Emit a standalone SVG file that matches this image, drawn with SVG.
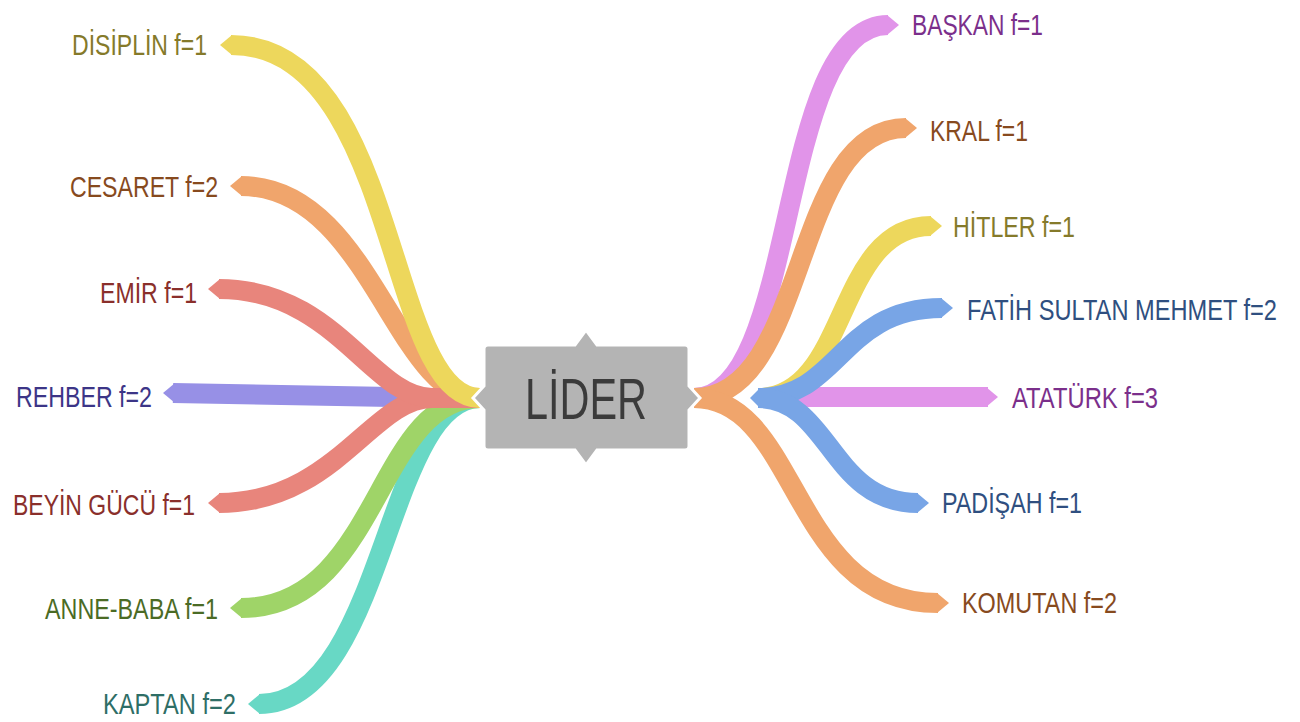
<svg xmlns="http://www.w3.org/2000/svg" width="1300" height="722" viewBox="0 0 1300 722">
<style>
.r{fill:none;stroke-width:20;stroke-linecap:butt}
.lbl{font-family:"Liberation Sans Narrow","Liberation Sans",Arial,sans-serif;font-size:30px}
.yel{stroke:#EDD75C}.yelf{fill:#EDD75C}
.org{stroke:#F0A56C}.orgf{fill:#F0A56C}
.sal{stroke:#E8857C}.salf{fill:#E8857C}
.lav{stroke:#9790E6}.lavf{fill:#9790E6}
.grn{stroke:#9FD468}.grnf{fill:#9FD468}
.tea{stroke:#68D8C5}.teaf{fill:#68D8C5}
.pnk{stroke:#E194E9}.pnkf{fill:#E194E9}
.blu{stroke:#78A5E6}.bluf{fill:#78A5E6}
.t-ol{fill:#857A2A}.t-br{fill:#874A1E}.t-rd{fill:#8A2F2B}.t-pu{fill:#3C3587}
.t-gr{fill:#4B6B25}.t-te{fill:#2E6E66}.t-pk{fill:#7B2F8B}.t-bl{fill:#2F4F80}
</style>
<rect width="1300" height="722" fill="#ffffff"/>
<g id="connectors">
  <!-- left side -->
  <path class="r lav" d="M 392 397 L 173 393"/>
  <polygon class="lavf" points="175,383 163,393 175,403"/>
  <polygon class="lavf" points="390,387 402,397 390,407"/>
  <path class="r tea" d="M 480 398 C 385 398, 385 704, 259 704"/>
  <polygon class="teaf" points="260,694 248,704 260,714"/>
  <path class="r grn" d="M 480 398 C 375 398, 380 608, 241 608"/>
  <polygon class="grnf" points="242,598 230,608 242,618"/>
  <path class="r org" d="M 480 398 C 395 398, 370 186, 241 186"/>
  <polygon class="orgf" points="242,176 230,186 242,196"/>
  <path class="r sal" d="M 480 398 L 432 398 C 372 398, 335 503, 219 503"/>
  <polygon class="salf" points="220,493 208,503 220,513"/>
  <path class="r sal" d="M 480 398 L 432 398 C 372 398, 335 289, 219 289"/>
  <polygon class="salf" points="220,279 208,289 220,299"/>
  <path class="r yel" d="M 480 398 C 385 398, 400 45, 231 45"/>
  <polygon class="yelf" points="232,35 220,45 232,55"/>
  <!-- right side -->
  <path class="r pnk" d="M 770 397 L 988 397"/>
  <polygon class="pnkf" points="986,387 998,397 986,407"/>
  <path class="r yel" d="M 760 398 C 850 395, 835 226, 931 226"/>
  <polygon class="yelf" points="930,216 942,226 930,236"/>
  <path class="r pnk" d="M 694 398 C 800 398, 775 25, 888 25"/>
  <polygon class="pnkf" points="887,15 899,25 887,35"/>
  <path class="r org" d="M 694 398 C 810 398, 790 128, 906 128"/>
  <polygon class="orgf" points="905,118 917,128 905,138"/>
  <path class="r org" d="M 694 398 C 800 398, 790 603, 938 603"/>
  <polygon class="orgf" points="937,593 949,603 937,613"/>
  <path class="r blu" d="M 758 398 C 840 398, 840 308, 942 308"/>
  <polygon class="bluf" points="941,298 953,308 941,318"/>
  <path class="r blu" d="M 758 398 C 830 398, 830 503, 918 503"/>
  <polygon class="bluf" points="917,493 929,503 917,513"/>
  <polygon class="bluf" points="760,388 750,398 760,408"/>
</g>
<g id="node-lider">
  <path d="M 488 345 L 575 345 L 586 330 L 597 345 L 685 345 Q 689 345 689 349 L 689 386 L 700 398 L 689 410 L 689 446 Q 689 450 685 450 L 597 450 L 586 465 L 575 450 L 488 450 Q 484 450 484 446 L 484 410 L 473 398 L 484 386 L 484 349 Q 484 345 488 345 Z" fill="#B4B4B4" stroke="#ffffff" stroke-width="3"/>
  <text x="525" y="419" font-family="'Liberation Sans Narrow','Liberation Sans',Arial,sans-serif" font-size="58" fill="#3B3B3B" textLength="122" lengthAdjust="spacingAndGlyphs">LİDER</text>
</g>
<g id="node-disiplin"><text class="lbl t-ol" x="72" y="55" textLength="135" lengthAdjust="spacingAndGlyphs">DİSİPLİN f=1</text></g>
<g id="node-cesaret"><text class="lbl t-br" x="70" y="197" textLength="148" lengthAdjust="spacingAndGlyphs">CESARET f=2</text></g>
<g id="node-emir"><text class="lbl t-rd" x="100" y="303" textLength="97" lengthAdjust="spacingAndGlyphs">EMİR f=1</text></g>
<g id="node-rehber"><text class="lbl t-pu" x="16" y="407" textLength="136" lengthAdjust="spacingAndGlyphs">REHBER f=2</text></g>
<g id="node-beyin"><text class="lbl t-rd" x="13" y="515" textLength="182" lengthAdjust="spacingAndGlyphs">BEYİN GÜCÜ f=1</text></g>
<g id="node-annebaba"><text class="lbl t-gr" x="45" y="619" textLength="173" lengthAdjust="spacingAndGlyphs">ANNE-BABA f=1</text></g>
<g id="node-kaptan"><text class="lbl t-te" x="103" y="714" textLength="133" lengthAdjust="spacingAndGlyphs">KAPTAN f=2</text></g>
<g id="node-baskan"><text class="lbl t-pk" x="912" y="35" textLength="131" lengthAdjust="spacingAndGlyphs">BAŞKAN f=1</text></g>
<g id="node-kral"><text class="lbl t-br" x="930" y="141" textLength="98" lengthAdjust="spacingAndGlyphs">KRAL f=1</text></g>
<g id="node-hitler"><text class="lbl t-ol" x="953" y="237" textLength="122" lengthAdjust="spacingAndGlyphs">HİTLER f=1</text></g>
<g id="node-fatih"><text class="lbl t-bl" x="967" y="320" textLength="310" lengthAdjust="spacingAndGlyphs">FATİH SULTAN MEHMET f=2</text></g>
<g id="node-ataturk"><text class="lbl t-pk" x="1012" y="408" textLength="146" lengthAdjust="spacingAndGlyphs">ATATÜRK f=3</text></g>
<g id="node-padisah"><text class="lbl t-bl" x="942" y="513" textLength="140" lengthAdjust="spacingAndGlyphs">PADİŞAH f=1</text></g>
<g id="node-komutan"><text class="lbl t-br" x="962" y="613" textLength="155" lengthAdjust="spacingAndGlyphs">KOMUTAN f=2</text></g>
</svg>
